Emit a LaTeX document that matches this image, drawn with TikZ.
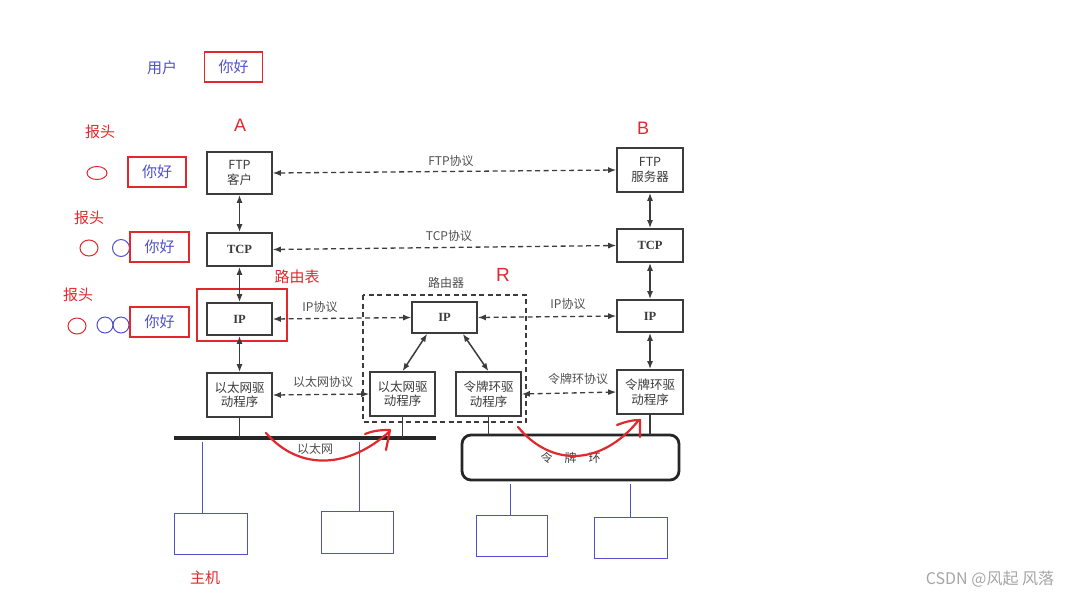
\documentclass[tikz,border=0pt]{standalone}
\usepackage{fontspec}
\setmainfont{Liberation Serif}
\newfontfamily\cjk{Noto Sans CJK SC}
\newfontfamily\lsans{Liberation Sans}
\usetikzlibrary{arrows.meta,shapes.geometric}
\definecolor{hred}{RGB}{225,40,45}
\definecolor{hblue}{RGB}{80,80,205}
\definecolor{ink}{RGB}{60,60,60}
\begin{document}
\begin{tikzpicture}[x=1pt,y=-1pt,
  box/.style={draw=ink, line width=1.6pt, fill=white, align=center, inner sep=0pt,
    font=\cjk\fontsize{12.5}{14.5}\selectfont, text=ink},
  dbl/.style={{Latex[length=8pt,width=6pt]}-{Latex[length=8pt,width=6pt]}, line width=1.5pt, draw=ink},
  proto/.style={dbl, dash pattern=on 5pt off 3.5pt, line width=1.3pt},
  plabel/.style={font=\cjk\fontsize{12}{14}\selectfont, text=ink!90, inner sep=0pt},
  redtext/.style={font=\cjk\fontsize{15}{17}\selectfont, text=hred, inner sep=0pt},
  bluetext/.style={font=\cjk\fontsize{15}{17}\selectfont, text=hblue, inner sep=0pt},
  redbox/.style={draw=hred, line width=1.2pt, font=\cjk\fontsize{15}{17}\selectfont, text=hblue, inner sep=0pt},
  host/.style={draw=hblue, line width=0.9pt, inner sep=0pt},
  hostline/.style={draw=hblue, line width=0.9pt},
  stub/.style={draw=ink, line width=1.3pt},
  ring/.style={draw=hred, line width=1pt, ellipse, inner sep=0pt},
  bring/.style={draw=hblue, line width=1pt, ellipse, inner sep=0pt},
  handarrow/.style={draw=hred, line width=2.2pt, line cap=round, line join=round}
]
\useasboundingbox (0,0) rectangle (1086,598);
\fill[white] (0,0) rectangle (1086,598);

% ---- left annotations ----
\node[bluetext] (user) at (162,68) {用户};
\node[redbox, minimum width=58pt, minimum height=30pt] (msg0) at (233.5,67) {你好};

\node[redtext] (hdr1) at (100,132) {报头};
\node[ring, minimum width=20pt, minimum height=13pt] (e1a) at (97,173) {};
\node[redbox, minimum width=58pt, minimum height=30pt] (msg1) at (157,172) {你好};

\node[redtext] (hdr2) at (89,218) {报头};
\node[ring, minimum width=18pt, minimum height=16pt] (e2a) at (89,248) {};
\node[bring, minimum width=17pt, minimum height=17pt] (e2b) at (121,248) {};
\node[redbox, minimum width=59pt, minimum height=30pt] (msg2) at (159.5,247) {你好};

\node[redtext] (hdr3) at (78,295) {报头};
\node[ring, minimum width=18pt, minimum height=16pt] (e3a) at (77,326) {};
\node[bring, minimum width=16pt, minimum height=16pt] (e3b) at (105,325) {};
\node[bring, minimum width=16pt, minimum height=16pt] (e3c) at (121,325) {};
\node[redbox, minimum width=59pt, minimum height=30pt] (msg3) at (159.5,322) {你好};

\node[font=\lsans\fontsize{18}{20}\selectfont, text=hred, inner sep=0pt] (lblA) at (240,125) {A};
\node[font=\lsans\fontsize{18}{20}\selectfont, text=hred, inner sep=0pt] (lblB) at (643,128) {B};
\node[font=\lsans\fontsize{19}{21}\selectfont, text=hred, inner sep=0pt] (lblR) at (503,275) {R};
\node[redtext] (rtab) at (297,277) {路由表};

% ---- host A ----
\node[box, minimum width=65pt, minimum height=42pt] (Af) at (239.5,173) {FTP\\客户};
\node[box, minimum width=65pt, minimum height=33pt] (At) at (239.5,249.5) {\rmfamily\bfseries TCP};
\node[box, minimum width=65pt, minimum height=32pt] (Ai) at (239.5,319) {\rmfamily\bfseries IP};
\node[box, minimum width=65pt, minimum height=44pt] (Ae) at (239.5,395) {以太网驱\\动程序};
\draw[draw=hred, line width=1.2pt] (197,289) rectangle (287,341);

% ---- host B ----
\node[box, minimum width=66pt, minimum height=44pt] (Bf) at (650,170) {FTP\\服务器};
\node[box, minimum width=66pt, minimum height=33pt] (Bt) at (650,245.5) {\rmfamily\bfseries TCP};
\node[box, minimum width=66pt, minimum height=32pt] (Bi) at (650,316) {\rmfamily\bfseries IP};
\node[box, minimum width=66pt, minimum height=44pt] (Bk) at (650,392) {令牌环驱\\动程序};

% ---- router ----
\draw[draw=ink, line width=1.3pt, dash pattern=on 5pt off 3.5pt] (363,295) rectangle (526,422);
\node[plabel] (rname) at (446,283) {路由器};
\node[box, minimum width=65pt, minimum height=31pt] (Ri) at (444.5,317.5) {\rmfamily\bfseries IP};
\node[box, minimum width=65pt, minimum height=44pt] (Re) at (402.5,394) {以太网驱\\动程序};
\node[box, minimum width=65pt, minimum height=44pt] (Rk) at (488.5,394) {令牌环驱\\动程序};

% ---- vertical stack arrows ----
\draw[dbl] (Af) -- (At);
\draw[dbl] (At) -- (Ai);
\draw[dbl] (Ai) -- (Ae);
\draw[dbl] (Bf) -- (Bt);
\draw[dbl] (Bt) -- (Bi);
\draw[dbl] (Bi) -- (Bk);
\path (Ri.south west) ++(16,0) coordinate (ri1);
\path (Ri.south east) ++(-15,0) coordinate (ri2);
\draw[dbl] (ri1) -- (Re.north);
\draw[dbl] (ri2) -- (Rk.north);

% ---- protocol arrows ----
\draw[proto] (Af.east) -- (Bf.west);
\node[plabel] (pftp) at (451,161) {FTP协议};
\draw[proto] (At.east) -- (Bt.west);
\node[plabel] (ptcp) at (449,236) {TCP协议};
\draw[proto] (Ai.east) -- (Ri.west);
\node[plabel] (pip1) at (320,307) {IP协议};
\draw[proto] (Ri.east) -- (Bi.west);
\node[plabel] (pip2) at (568,304) {IP协议};
\draw[proto] (Ae.east) -- (Re.west);
\node[plabel] (peth) at (323,382) {以太网协议};
\draw[proto] (Rk.east) -- (Bk.west);
\node[plabel] (ptok) at (578,379) {令牌环协议};

% ---- networks ----
\coordinate (busL) at (174,438);
\coordinate (busR) at (436,438);
\draw[draw=black!85, line width=3.2pt] (busL) -- (busR);
\node[plabel] (ethlbl) at (315,449) {以太网};
\node[draw=black!85, line width=2.8pt, rounded corners=9pt, minimum width=217pt, minimum height=45pt, inner sep=0pt,
      font=\cjk\fontsize{12}{14}\selectfont, text=ink] (tring) at (570.5,457.5) {令\hspace{12pt}牌\hspace{12pt}环};

\coordinate (ta) at (239.5,438);
\coordinate (tr) at (402.5,438);
\draw[stub] (Ae.south) -- (ta);
\draw[stub] (Re.south) -- (tr);
\coordinate (tk1) at (488.5,435);
\coordinate (tk2) at (650,435);
\draw[stub] (Rk.south) -- (tk1);
\draw[stub] (Bk.south) -- (tk2);

% ---- hosts ----
\node[host, minimum width=73pt, minimum height=41pt] (h1) at (210.5,533.5) {};
\node[host, minimum width=72pt, minimum height=42pt] (h2) at (357,532) {};
\node[host, minimum width=71pt, minimum height=41pt] (h3) at (511.5,535.5) {};
\node[host, minimum width=73pt, minimum height=41pt] (h4) at (630.5,537.5) {};
\coordinate (b1) at (202,442);
\coordinate (b2) at (359,442);
\coordinate (b3) at (510,484);
\coordinate (b4) at (630,484);
\draw[hostline] (b1) -- (b1 |- h1.north);
\draw[hostline] (b2) -- (b2 |- h2.north);
\draw[hostline] (b3) -- (b3 |- h3.north);
\draw[hostline] (b4) -- (b4 |- h4.north);
\node[redtext] (hostlbl) at (205,578) {主机};

% ---- hand-drawn red arrows ----
\draw[handarrow] (266,433) .. controls (300,472) and (350,468) .. (390,431);
\draw[handarrow] (365,434) .. controls (375,430) and (383,430) .. (390,430) -- (386,450);
\draw[handarrow] (518,427) .. controls (552,468) and (602,465) .. (638,421);
\draw[handarrow] (617,425) .. controls (627,421) and (634,420) .. (640,420) -- (640,437);

% ---- watermark ----
\node[font=\cjk\fontsize{16}{18}\selectfont, text=black!35, inner sep=0pt] (wm) at (990,579) {CSDN @风起 风落};
\end{tikzpicture}
\end{document}
